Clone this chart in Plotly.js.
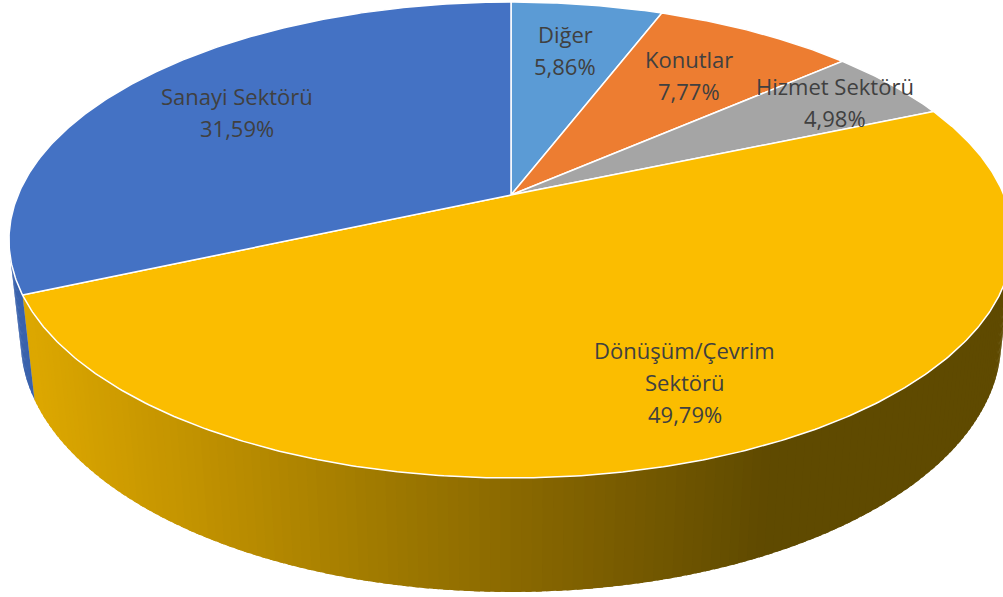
<!DOCTYPE html>
<html>
<head>
<meta charset="utf-8">
<script src="https://cdn.plot.ly/plotly-3.0.1.min.js"></script>
<style>html,body{margin:0;padding:0;background:#fff;}#chart{width:1003px;height:597px;}</style>
</head>
<body>
<div id="chart"></div>
<script>
// ---- data ----
const categories = ['Diğer', 'Konutlar', 'Hizmet Sektörü', 'Dönüşüm/Çevrim Sektörü', 'Sanayi Sektörü'];
const categoryLines = [['Diğer'], ['Konutlar'], ['Hizmet Sektörü'], ['Dönüşüm/Çevrim', 'Sektörü'], ['Sanayi Sektörü']];
const values = [5.86, 7.77, 4.98, 49.79, 31.59];
const percentLabels = ['5,86%', '7,77%', '4,98%', '49,79%', '31,59%'];

// ---- style ----
const topColors = ['#5B9BD5', '#ED7D31', '#A5A5A5', '#FBBD00', '#4472C4'];
const sideShadeStops = {
  3: [[30, [220, 167, 0]], [200, [192, 145, 0]], [400, [156, 119, 0]], [600, [124, 94, 0]], [770, [95, 74, 0]], [1100, [95, 74, 0]]],
  4: [[0, [58, 98, 172]], [1100, [58, 98, 172]]],
  0: [[0, [60, 110, 160]], [1100, [60, 110, 160]]],
  1: [[0, [160, 80, 30]], [1100, [160, 80, 30]]],
  2: [[0, [110, 110, 110]], [1100, [110, 110, 110]]]
};
const labelStyle = { radius: 0.75, lineGap: 32, fontSize: 22, color: '#404040', family: 'Open Sans, Arial, sans-serif' };
const labelNudge = [[-5, 3], [-12, 6], [32, -8], [5, 5], [13, 4]];

// ---- projection (3D perspective of a pie) ----
const cam = { cx: 511, cy: 195, F: 2307, D: 4.68, sinE: 0.4655 };
cam.cosE = Math.sqrt(1 - cam.sinE * cam.sinE);
const depthH = 0.233;
function proj(X, Y, Z) {
  const depth = cam.D - Y * cam.sinE - Z * cam.cosE;
  const yc = Y * cam.cosE - Z * cam.sinE;
  return [cam.cx + cam.F * X / depth, cam.cy - cam.F * yc / depth];
}
function rim(phiDeg, r, Y) {
  const p = phiDeg * Math.PI / 180;
  return proj(r * Math.sin(p), Y, -r * Math.cos(p));
}
function shade(stops, x) {
  for (let i = 0; i < stops.length - 1; i++) {
    const [x0, c0] = stops[i], [x1, c1] = stops[i + 1];
    if (x <= x1 || i === stops.length - 2) {
      const t = Math.max(0, Math.min(1, (x - x0) / (x1 - x0)));
      const c = c0.map((v, k) => Math.round(v + (c1[k] - v) * t));
      return 'rgb(' + c.join(',') + ')';
    }
  }
}

const total = values.reduce((a, b) => a + b, 0);
const starts = [], ends = [];
let acc = 0;
values.forEach(v => { starts.push(acc / total * 360); acc += v; ends.push(acc / total * 360); });

const traces = [];
// visible side: outward normal faces the camera when Z > 1/(D*cosE)
const zVis = 1 / (cam.D * cam.cosE);
const step = 1;
values.forEach((v, i) => {
  for (let a = starts[i]; a < ends[i] - 1e-9; a += step) {
    const b = Math.min(a + step, ends[i]);
    const bOver = Math.min(b + 0.6, ends[i]);
    const mid = (a + b) / 2;
    const zmid = -Math.cos(mid * Math.PI / 180);
    if (zmid <= zVis) continue;
    const p1 = rim(a, 1, 0), p2 = rim(bOver, 1, 0), p3 = rim(bOver, 1, -depthH), p4 = rim(a, 1, -depthH);
    const col = shade(sideShadeStops[i], (p1[0] + rim(b, 1, 0)[0]) / 2);
    traces.push({
      type: 'scatter', mode: 'lines', fill: 'toself', fillcolor: col,
      x: [p1[0], p2[0], p3[0], p4[0], p1[0]], y: [p1[1], p2[1], p3[1], p4[1], p1[1]],
      line: { color: col, width: 0 }, hoverinfo: 'skip', showlegend: false
    });
  }
});

// top surface slices
values.forEach((v, i) => {
  const xs = [], ys = [];
  const c = proj(0, 0, 0);
  xs.push(c[0]); ys.push(c[1]);
  const n = Math.max(4, Math.ceil((ends[i] - starts[i]) / 0.5));
  for (let k = 0; k <= n; k++) {
    const phi = starts[i] + (ends[i] - starts[i]) * k / n;
    const p = rim(phi, 1, 0);
    xs.push(p[0]); ys.push(p[1]);
  }
  xs.push(c[0]); ys.push(c[1]);
  traces.push({
    type: 'scatter', mode: 'lines', fill: 'toself', fillcolor: topColors[i],
    x: xs, y: ys, line: { color: '#ffffff', width: 1.5 },
    name: categories[i], text: categories[i] + ' ' + percentLabels[i], hoverinfo: 'text', showlegend: false
  });
});

// labels
const annotations = [];
values.forEach((v, i) => {
  const mid = (starts[i] + ends[i]) / 2;
  const p = rim(mid, labelStyle.radius, 0);
  const lines = categoryLines[i].concat([percentLabels[i]]);
  const cx = p[0] + labelNudge[i][0], cy = p[1] + labelNudge[i][1];
  lines.forEach((t, k) => {
    annotations.push({
      x: cx, y: cy + (k - (lines.length - 1) / 2) * labelStyle.lineGap,
      xref: 'x', yref: 'y', text: t, showarrow: false,
      xanchor: 'center', yanchor: 'middle',
      font: { size: labelStyle.fontSize, color: labelStyle.color, family: labelStyle.family }
    });
  });
});

const layout = {
  width: 1003, height: 597,
  margin: { l: 0, r: 0, t: 0, b: 0 },
  paper_bgcolor: '#ffffff', plot_bgcolor: '#ffffff',
  xaxis: { range: [0, 1003], visible: false, fixedrange: true },
  yaxis: { range: [597, 0], visible: false, fixedrange: true },
  showlegend: false,
  annotations: annotations
};
Plotly.newPlot('chart', traces, layout, { displayModeBar: false, staticPlot: true });
</script>
</body>
</html>
